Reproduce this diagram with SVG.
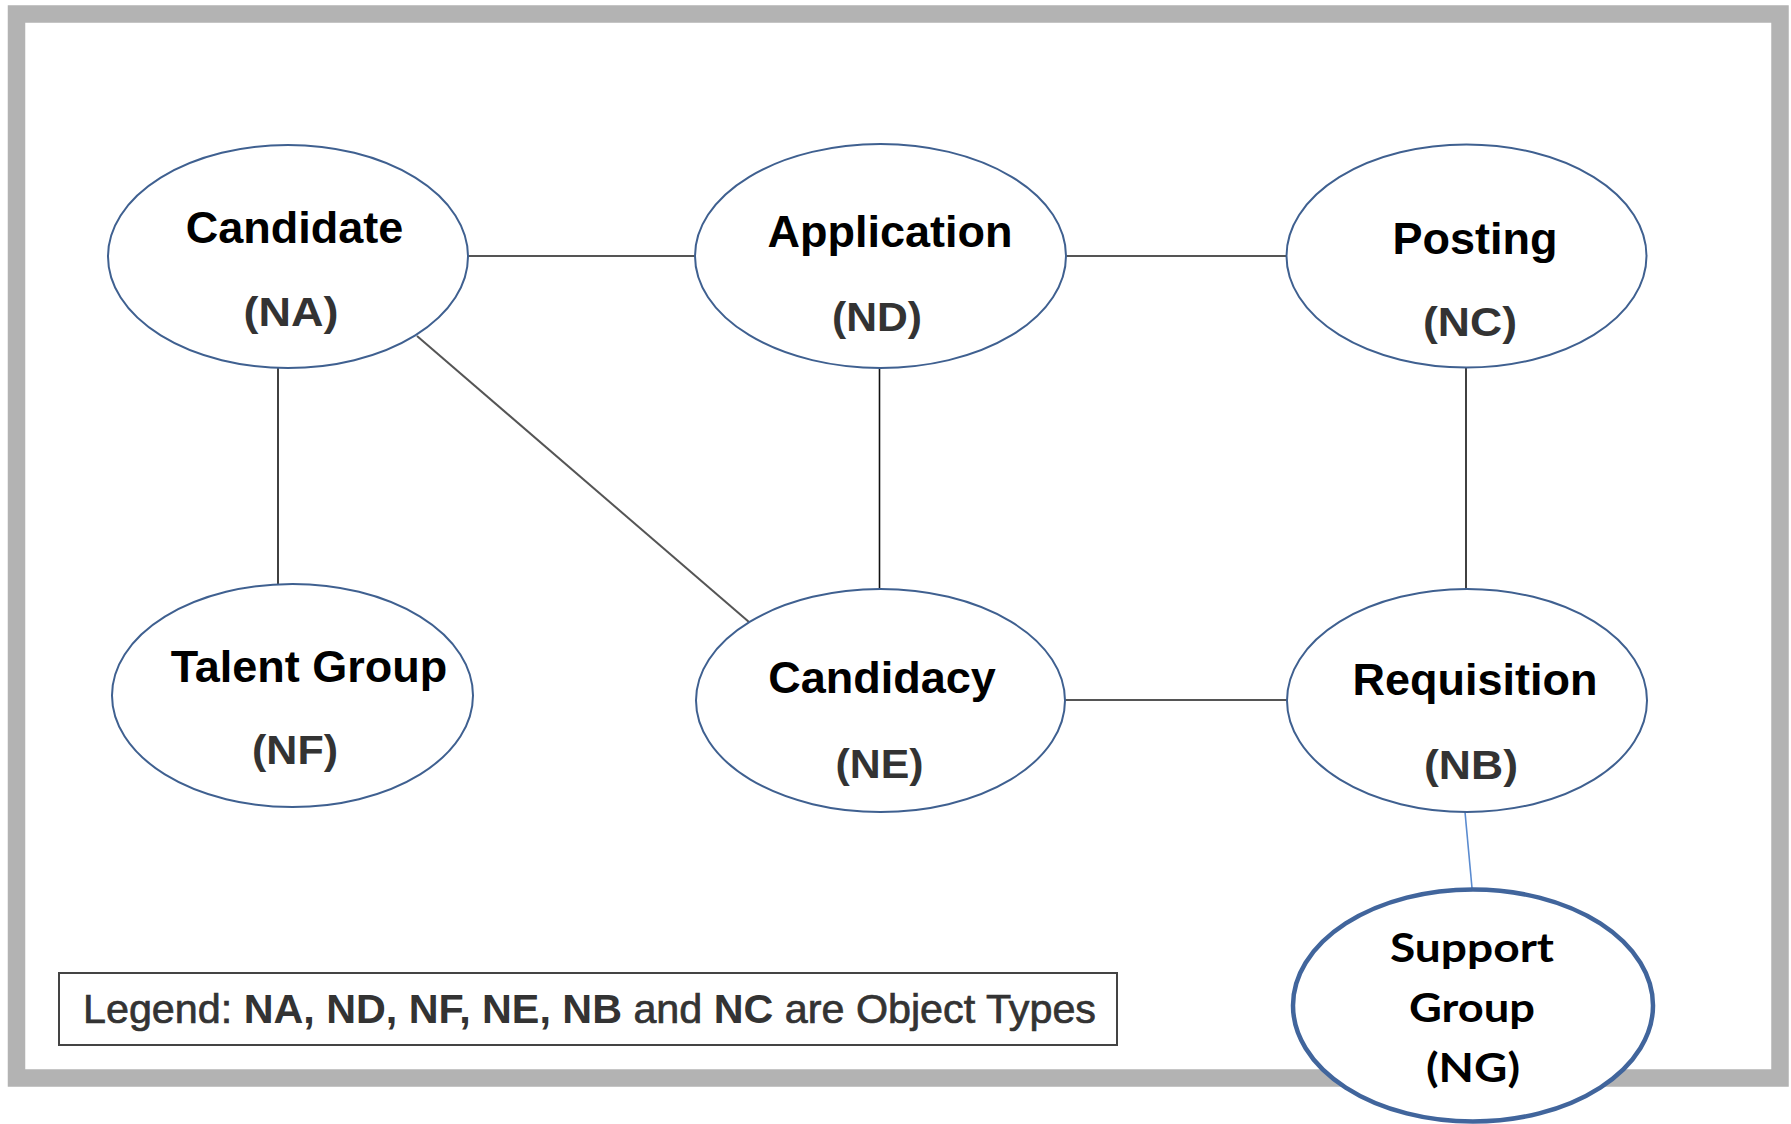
<svg xmlns="http://www.w3.org/2000/svg" width="1791" height="1124" viewBox="0 0 1791 1124">
<style>
.node{fill:#ffffff;stroke:#3f6090;stroke-width:2}
.node-thick{fill:#ffffff;stroke:#41659c;stroke-width:4.5}
.name{font-family:"Liberation Sans",Arial,sans-serif;font-weight:bold;font-size:45px;fill:#000;text-anchor:middle}
.code{font-family:"Liberation Sans",Arial,sans-serif;font-weight:bold;font-size:40px;fill:#333;text-anchor:middle}
.cal{font-family:Lato,"Open Sans",sans-serif;font-weight:bold;font-size:40px;fill:#000;text-anchor:middle}
.conn{stroke:#555;stroke-width:2;fill:none}
.connk{stroke:#111;stroke-width:1.6;fill:none}
.connb{stroke:#5a8bd0;stroke-width:1.6;fill:none}
.leg{font-family:"Liberation Sans",Arial,sans-serif;font-size:41px;fill:#333;stroke:#333;stroke-width:0.7}
</style>
<rect x="0" y="0" width="1791" height="1124" fill="#ffffff"/>
<rect id="frame" x="16.5" y="14" width="1763.5" height="1064" fill="#ffffff" stroke="#b3b3b3" stroke-width="17.5"/>
<g id="connectors">
<line class="conn" x1="468" y1="256" x2="695" y2="256"/>
<line class="conn" x1="1066" y1="256" x2="1287" y2="256"/>
<line class="connk" x1="278" y1="368" x2="278" y2="584"/>
<line class="conn" x1="417" y1="336" x2="749" y2="622"/>
<line class="connk" x1="879.5" y1="368" x2="879.5" y2="589"/>
<line class="connk" x1="1466" y1="368" x2="1466" y2="589"/>
<line class="conn" x1="1065" y1="700" x2="1287" y2="700"/>
<line class="connb" x1="1465" y1="812" x2="1472" y2="888"/>
</g>
<g id="NA">
<ellipse class="node" cx="288" cy="256.5" rx="180" ry="111.5"/>
<text class="name" x="294.5" y="243">Candidate</text>
<text class="code" x="291" y="326" textLength="95" lengthAdjust="spacingAndGlyphs">(NA)</text>
</g>
<g id="ND">
<ellipse class="node" cx="880.5" cy="256" rx="185.5" ry="112"/>
<text class="name" x="890" y="247">Application</text>
<text class="code" x="877" y="331" textLength="90" lengthAdjust="spacingAndGlyphs">(ND)</text>
</g>
<g id="NC">
<ellipse class="node" cx="1466.5" cy="256" rx="180" ry="111.5"/>
<text class="name" x="1475" y="254">Posting</text>
<text class="code" x="1470" y="336" textLength="94" lengthAdjust="spacingAndGlyphs">(NC)</text>
</g>
<g id="NF">
<ellipse class="node" cx="292.5" cy="695.5" rx="180.5" ry="111.5"/>
<text class="name" x="309" y="682">Talent Group</text>
<text class="code" x="295" y="764" textLength="86" lengthAdjust="spacingAndGlyphs">(NF)</text>
</g>
<g id="NE">
<ellipse class="node" cx="880.5" cy="700.5" rx="184.5" ry="111.5"/>
<text class="name" x="882" y="693">Candidacy</text>
<text class="code" x="879.5" y="778" textLength="88" lengthAdjust="spacingAndGlyphs">(NE)</text>
</g>
<g id="NB">
<ellipse class="node" cx="1467" cy="700.5" rx="180" ry="111.5"/>
<text class="name" x="1475" y="695">Requisition</text>
<text class="code" x="1471" y="779" textLength="94" lengthAdjust="spacingAndGlyphs">(NB)</text>
</g>
<g id="NG">
<ellipse class="node-thick" cx="1473" cy="1005.5" rx="180" ry="116"/>
<text class="cal" x="1472" y="962" textLength="164" lengthAdjust="spacingAndGlyphs">Support</text>
<text class="cal" x="1472" y="1022" textLength="126" lengthAdjust="spacingAndGlyphs">Group</text>
<text class="cal" x="1473" y="1082" textLength="94" lengthAdjust="spacingAndGlyphs">(NG)</text>
</g>
<g id="legend">
<rect x="59" y="973" width="1058" height="72" fill="#ffffff" stroke="#444" stroke-width="2"/>
<text class="leg" x="83" y="1023" textLength="1013" lengthAdjust="spacingAndGlyphs">Legend: <tspan font-weight="bold" stroke-width="0">NA, ND, NF, NE, NB</tspan> and <tspan font-weight="bold" stroke-width="0">NC</tspan> are Object Types</text>
</g>
</svg>
